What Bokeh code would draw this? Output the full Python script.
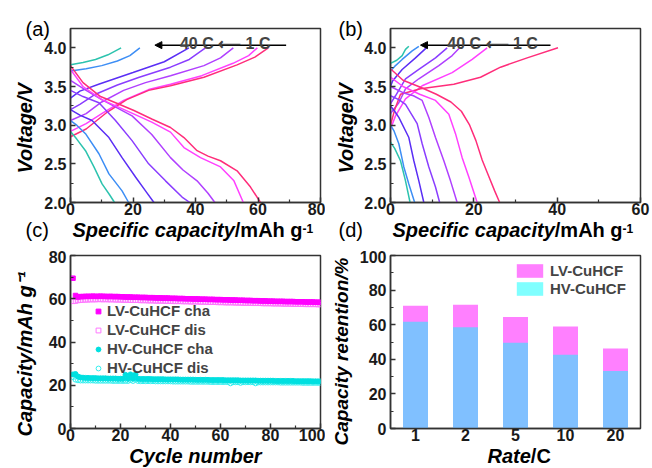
from bokeh.plotting import figure
from bokeh.layouts import gridplot
from bokeh.models import (Range1d, FactorRange, FixedTicker, Label, Arrow, NormalHead, Title,
                          ColumnDataSource, Legend, LegendItem, NumeralTickFormatter)
from bokeh.embed import file_html
from bokeh.resources import INLINE

FONT = "Liberation Sans"

# ---------------- data ----------------
rates = ["1 C", "2 C", "5 C", "10 C", "20 C", "30 C", "40 C"]
rate_colors = ["#FF2D7A", "#FF40FF", "#B040FF", "#8A3DFF", "#5A2EF5", "#3D8EF5", "#2CC3AE"]

# panel (a): LV-CuHCF charge / discharge, capacity (mAh/g) and voltage (V)
a_chg_x = [[0, 5, 11.8, 18, 25, 32, 42.7, 53.3, 59, 63.3],
           [0, 5, 10, 17, 25, 32, 42, 52, 57, 59.8],
           [0, 5, 10, 17, 24, 32, 42.7, 48, 52.1],
           [0, 3, 8, 15, 22, 32, 38, 43.2],
           [0, 3, 9, 20, 30, 37.9],
           [0, 5, 10, 15, 19, 22.2],
           [0, 4, 8, 12, 16.2]]
a_chg_v = [[2.85, 2.95, 3.17, 3.33, 3.45, 3.51, 3.62, 3.78, 3.88, 4.0],
           [2.92, 3.02, 3.15, 3.32, 3.46, 3.53, 3.64, 3.80, 3.90, 4.0],
           [3.06, 3.15, 3.30, 3.45, 3.55, 3.64, 3.77, 3.87, 4.0],
           [3.20, 3.27, 3.40, 3.52, 3.62, 3.75, 3.85, 4.0],
           [3.35, 3.44, 3.53, 3.68, 3.82, 4.0],
           [3.70, 3.73, 3.77, 3.83, 3.90, 4.0],
           [3.78, 3.81, 3.85, 3.91, 4.0]]
a_dis_x = [[0, 4, 9.6, 15, 20.3, 26, 32, 36.3, 40.5, 44, 48, 53.3, 57.6, 60.8],
           [0, 4, 10, 15, 20, 26, 32, 36.3, 41.6, 48, 52.3, 55.3],
           [0, 5, 10, 19.7, 26, 32, 36, 40.5, 44, 46.2],
           [0, 4, 9.1, 14.4, 19.7, 25, 30.4, 35.7, 38.2],
           [0, 3, 6.9, 12.3, 16.5, 20.8, 24, 26.7],
           [0, 2, 4.8, 9.1, 12.3, 16.5, 18.6],
           [0, 2, 4.8, 7.5, 10.1, 12.5, 14.1]]
a_dis_v = [[3.77, 3.55, 3.37, 3.28, 3.19, 3.08, 2.97, 2.84, 2.67, 2.60, 2.54, 2.41, 2.20, 2.0],
           [3.72, 3.50, 3.33, 3.24, 3.15, 3.04, 2.91, 2.71, 2.58, 2.46, 2.28, 2.0],
           [3.58, 3.45, 3.33, 3.12, 2.88, 2.58, 2.42, 2.28, 2.12, 2.0],
           [3.45, 3.37, 3.29, 3.06, 2.80, 2.50, 2.28, 2.07, 2.0],
           [3.20, 3.13, 3.06, 2.84, 2.58, 2.33, 2.15, 2.0],
           [3.06, 3.00, 2.89, 2.63, 2.37, 2.15, 2.0],
           [2.92, 2.82, 2.67, 2.46, 2.24, 2.10, 2.0]]

# panel (b): HV-CuHCF
b_chg_x = [[0, 1, 2.4, 7.2, 15.2, 21.6, 26.4, 32.8, 40.2],
           [0, 1.2, 3.6, 7.6, 14.8, 19.6, 23.2],
           [0, 2, 3.6, 6.8, 11.6, 14.8, 16.6],
           [0, 1.2, 3.6, 6.8, 10.8, 13.6],
           [0, 0.5, 2.8, 6, 8.6],
           [0, 1, 2.8, 5.2, 6.8],
           [0, 1.5, 2.8, 3.6, 4.4]]
b_chg_v = [[3.00, 3.20, 3.40, 3.47, 3.53, 3.62, 3.75, 3.87, 4.0],
           [2.95, 3.12, 3.34, 3.51, 3.68, 3.85, 4.0],
           [3.15, 3.29, 3.47, 3.60, 3.77, 3.90, 4.0],
           [3.28, 3.38, 3.60, 3.72, 3.87, 4.0],
           [3.50, 3.57, 3.72, 3.87, 4.0],
           [3.70, 3.76, 3.85, 3.96, 4.02],
           [3.80, 3.84, 3.90, 3.98, 4.02]]
b_dis_x = [[0, 3, 7.2, 11, 14.5, 17, 19, 20.5, 22, 23.5, 25, 26.2],
           [0, 3, 7, 10.8, 14, 15.6, 17.2, 18.8, 20.8],
           [0, 3, 5.5, 7.6, 9.2, 10.8, 12.8, 14.4, 16.0],
           [0, 2, 3.6, 6.4, 7.6, 9.2, 10.8, 11.8],
           [0, 1, 2, 4.4, 5.6, 6.8, 8],
           [0, 0.8, 2, 3.2, 4.4, 5.8],
           [0, 1, 2.4, 3.6, 4.7]]
b_dis_v = [[3.73, 3.58, 3.49, 3.40, 3.30, 3.18, 3.00, 2.80, 2.55, 2.35, 2.15, 2.0],
           [3.62, 3.50, 3.40, 3.32, 3.14, 2.89, 2.58, 2.33, 2.0],
           [3.50, 3.42, 3.38, 3.32, 3.10, 2.84, 2.54, 2.28, 2.0],
           [3.38, 3.33, 3.27, 3.02, 2.76, 2.46, 2.20, 2.0],
           [3.25, 3.18, 3.10, 2.84, 2.54, 2.28, 2.0],
           [3.00, 2.93, 2.76, 2.46, 2.24, 2.0],
           [2.78, 2.70, 2.54, 2.28, 2.0]]

arrow_a = [69, 27, 4.035]
arrow_b = [38.4, 7.2, 4.035]

# panel (c): cycling, capacity (mAh/g) vs cycle number
cycles = list(range(1, 101))
lv_cha = [69.5, 61.5, 60.8, 61.0, 61.0, 61.1, 61.1, 61.1, 61.2, 61.1,
          61.1, 61.2, 61.1, 61.1, 61.0, 61.1, 61.0, 61.0, 61.0, 60.9,
          60.9, 60.8, 60.8, 60.8, 60.7, 60.7, 60.7, 60.6, 60.6, 60.6,
          60.5, 60.5, 60.5, 60.4, 60.4, 60.4, 60.3, 60.3, 60.3, 60.2,
          60.2, 60.2, 60.1, 60.1, 60.1, 60.0, 60.0, 60.0, 59.9, 59.9,
          59.9, 59.8, 59.8, 59.8, 59.7, 59.7, 59.7, 59.6, 59.6, 59.6,
          59.5, 59.5, 59.5, 59.4, 59.4, 59.4, 59.3, 59.3, 59.3, 59.2,
          59.2, 59.2, 59.1, 59.1, 59.1, 59.0, 59.0, 59.0, 58.9, 58.9,
          58.9, 58.8, 58.8, 58.8, 58.8, 58.7, 58.7, 58.7, 58.7, 58.6,
          58.6, 58.6, 58.6, 58.5, 58.5, 58.5, 58.5, 58.4, 58.4, 58.4]
lv_dis = [58.8, 58.9, 59.2, 59.3, 59.4, 59.5, 59.5, 59.6, 59.6, 59.6,
          59.7, 59.7, 59.6, 59.7, 59.6, 59.6, 59.6, 59.5, 59.5, 59.5,
          59.4, 59.4, 59.4, 59.3, 59.3, 59.3, 59.3, 59.2, 59.2, 59.2,
          59.1, 59.1, 59.1, 59.0, 59.0, 59.0, 59.0, 58.9, 58.9, 58.9,
          58.8, 58.8, 58.8, 58.8, 58.7, 58.7, 58.7, 58.6, 58.6, 58.6,
          58.6, 58.5, 58.5, 58.5, 58.4, 58.4, 58.4, 58.4, 58.3, 58.3,
          58.3, 58.2, 58.2, 58.2, 58.2, 58.1, 58.1, 58.1, 58.0, 58.0,
          58.0, 58.0, 57.9, 57.9, 57.9, 57.9, 57.8, 57.8, 57.8, 57.8,
          57.7, 57.7, 57.7, 57.7, 57.6, 57.6, 57.6, 57.6, 57.5, 57.5,
          57.5, 57.5, 57.5, 57.4, 57.4, 57.4, 57.4, 57.4, 57.3, 57.3]
hv_cha = [25.0, 25.2, 24.0, 23.6, 23.5, 23.4, 23.4, 23.3, 23.3, 23.3,
          23.2, 23.2, 23.2, 23.2, 23.1, 23.1, 23.1, 23.1, 23.0, 23.0,
          23.0, 24.8, 23.0, 25.0, 23.1, 25.0, 23.0, 22.9, 22.9, 22.9,
          22.9, 22.9, 22.8, 22.8, 22.8, 22.8, 22.8, 22.7, 22.7, 22.7,
          22.7, 22.7, 22.7, 22.6, 22.6, 22.6, 22.6, 22.6, 22.6, 22.5,
          22.5, 22.5, 22.5, 22.5, 22.5, 22.4, 22.4, 22.4, 22.4, 22.4,
          22.4, 22.3, 22.3, 22.3, 22.3, 22.3, 22.3, 22.2, 22.2, 22.2,
          22.2, 22.2, 22.2, 22.2, 22.1, 22.1, 22.1, 22.1, 22.1, 22.1,
          22.1, 22.0, 22.0, 22.0, 22.0, 22.0, 22.0, 22.0, 22.0, 21.9,
          21.9, 21.9, 21.9, 21.9, 21.9, 21.9, 21.8, 21.8, 21.8, 21.8]
hv_dis = [23.8, 22.6, 22.3, 22.2, 22.2, 22.2, 22.2, 22.2, 22.2, 22.1,
          22.1, 22.1, 22.1, 22.1, 22.1, 22.1, 22.0, 22.0, 22.0, 22.0,
          22.0, 22.0, 22.0, 22.4, 22.0, 22.6, 22.0, 21.9, 21.9, 21.9,
          21.9, 21.9, 21.9, 21.8, 21.8, 21.8, 21.8, 21.8, 21.8, 21.8,
          21.7, 21.7, 21.7, 21.7, 21.7, 21.7, 21.7, 21.6, 21.6, 21.6,
          21.6, 21.6, 21.6, 21.6, 21.6, 21.5, 21.5, 21.5, 21.5, 21.5,
          21.5, 21.5, 21.5, 20.9, 21.4, 21.4, 21.4, 21.1, 21.4, 21.4,
          21.4, 21.4, 21.4, 20.9, 21.3, 21.3, 21.3, 21.3, 21.3, 21.3,
          21.3, 21.3, 21.3, 21.2, 21.2, 21.2, 21.2, 21.2, 21.2, 21.2,
          21.2, 21.2, 21.1, 21.1, 21.1, 21.1, 21.1, 21.1, 21.1, 21.1]

# panel (d): capacity retention (%)
ret_rates = ["1", "2", "5", "10", "20"]
lv_ret = [71.0, 71.6, 64.5, 59.0, 46.3]
hv_ret = [61.7, 58.5, 49.5, 42.7, 33.3]

# ---------------- helpers ----------------
WID = {' ': 278, '(': 333, ')': 333, '/': 278, '%': 889, '-': 333, 'A': 722, 'C': 722,
       'F': 611, 'H': 722, 'L': 611, 'R': 722, 'S': 667, 'V': 667, 'a': 556, 'b': 611,
       'c': 556, 'e': 556, 'f': 333, 'g': 611, 'h': 611, 'i': 278, 'l': 278, 'm': 889,
       'n': 611, 'o': 611, 'p': 611, 'r': 389, 't': 333, 'u': 611, 'y': 556}


def tw(s, size):
    return sum(WID.get(ch, 556) for ch in s) * size / 1000.0


def ttl(p, side, text, size, style, align, valign, offset, psize=0.0):
    """Title in a side panel; psize is the panel thickness it should take."""
    h = 1.117 * size
    p.add_layout(Title(text=text, text_font=FONT, text_font_size=f"{size}px",
                       text_font_style=style, text_color="black", align=align,
                       vertical_align=valign, offset=offset, standoff=psize - 2 - h), side)


def hparts(p, parts, offset):
    off = offset
    for s, st, size in parts:
        ttl(p, "below", s, size, st, "left", "top", off)
        off += tw(s, size)


def make_fig(w, h, bl, br, bt, bb, xr, yr):
    p = figure(width=w, height=h, x_range=xr, y_range=yr, output_backend="svg",
               toolbar_location=None, min_border_left=bl, min_border_right=br,
               min_border_top=bt, min_border_bottom=bb)
    p.xgrid.visible = False
    p.ygrid.visible = False
    p.outline_line_color = "#333333"
    p.outline_line_width = 1.5
    p.outline_line_alpha = 1.0
    for ax in (p.xaxis[0], p.yaxis[0]):
        ax.axis_line_color = "#333333"
        ax.axis_line_width = 1.5
        ax.major_tick_in = 5
        ax.major_tick_out = 0
        ax.minor_tick_in = 3
        ax.minor_tick_out = 0
        ax.major_tick_line_color = "#333333"
        ax.major_tick_line_width = 1.5
        ax.minor_tick_line_color = "#333333"
        ax.minor_tick_line_width = 1.2
        ax.major_label_text_font = FONT
        ax.major_label_text_font_style = "bold"
        ax.major_label_text_font_size = "16px"
        ax.major_label_text_color = "#1a1a1a"
    p.xaxis[0].major_label_standoff = 0
    p.yaxis[0].major_label_standoff = 4
    # spacer that pushes the axis-title row below the tick labels
    ttl(p, "below", " ", 20, "normal", "left", "top", 0, 14)
    return p


cap_parts = [("Specific capacity", "bold italic", 20), ("/mAh g", "bold", 20), ("-1", "bold", 12)]
ARROW_TXT = "40 C \u27f5 1 C"

# ---------------- panel (a) ----------------
pa = make_fig(325, 250, 70, 5, 28, 48, Range1d(0, 80), Range1d(2.0, 4.25))
pa.xaxis[0].ticker = FixedTicker(ticks=[0, 20, 40, 60, 80], minor_ticks=[10, 30, 50, 70])
pa.yaxis[0].ticker = FixedTicker(ticks=[2.0, 2.5, 3.0, 3.5, 4.0], minor_ticks=[2.25, 2.75, 3.25, 3.75])
pa.yaxis[0].formatter = NumeralTickFormatter(format="0.0")
pa.multi_line(xs=a_chg_x[::-1], ys=a_chg_v[::-1], line_color=rate_colors[::-1], line_width=1.5)
pa.multi_line(xs=a_dis_x[::-1], ys=a_dis_v[::-1], line_color=rate_colors[::-1], line_width=1.5)
pa.add_layout(Arrow(end=NormalHead(size=7, fill_color="black", line_color="black"),
                    x_start=arrow_a[0], y_start=arrow_a[2], x_end=arrow_a[1], y_end=arrow_a[2],
                    line_color="black", line_width=1.5))
pa.add_layout(Label(x=49.5, y=4.06, text=ARROW_TXT, text_font=FONT, text_font_size="16px",
                    text_font_style="bold", text_align="center", text_baseline="alphabetic"))
ttl(pa, "above", "(a)", 20, "normal", "left", "middle", -45)
ttl(pa, "below", "(c)", 20, "normal", "left", "top", -45)
hparts(pa, cap_parts, 2)
ttl(pa, "left", "Voltage/V", 20, "bold italic", "left", "top", 29, 32.8)

# ---------------- panel (b) ----------------
pb = make_fig(325, 250, 65, 10, 28, 48, Range1d(0, 60), Range1d(2.0, 4.25))
pb.xaxis[0].ticker = FixedTicker(ticks=[0, 20, 40, 60], minor_ticks=[10, 30, 50])
pb.yaxis[0].ticker = FixedTicker(ticks=[2.0, 2.5, 3.0, 3.5, 4.0], minor_ticks=[2.25, 2.75, 3.25, 3.75])
pb.yaxis[0].formatter = NumeralTickFormatter(format="0.0")
pb.multi_line(xs=b_chg_x[::-1], ys=b_chg_v[::-1], line_color=rate_colors[::-1], line_width=1.5)
pb.multi_line(xs=b_dis_x[::-1], ys=b_dis_v[::-1], line_color=rate_colors[::-1], line_width=1.5)
pb.add_layout(Arrow(end=NormalHead(size=7, fill_color="black", line_color="black"),
                    x_start=arrow_b[0], y_start=arrow_b[2], x_end=arrow_b[1], y_end=arrow_b[2],
                    line_color="black", line_width=1.5))
pb.add_layout(Label(x=24.5, y=4.06, text=ARROW_TXT, text_font=FONT, text_font_size="16px",
                    text_font_style="bold", text_align="center", text_baseline="alphabetic"))
ttl(pb, "above", "(b)", 20, "normal", "left", "middle", -52)
ttl(pb, "below", "(d)", 20, "normal", "left", "top", -52)
hparts(pb, cap_parts, 2)
ttl(pb, "left", "Voltage/V", 20, "bold italic", "left", "top", 29, 30.8)

# ---------------- panel (c) ----------------
pc = make_fig(325, 218, 70, 5, 5, 40, Range1d(0, 100), Range1d(0, 80))
pc.xaxis[0].ticker = FixedTicker(ticks=[0, 20, 40, 60, 80, 100], minor_ticks=[10, 30, 50, 70, 90])
pc.yaxis[0].ticker = FixedTicker(ticks=[0, 20, 40, 60, 80], minor_ticks=[10, 30, 50, 70])
src_c = ColumnDataSource(dict(cyc=cycles, lvc=lv_cha, lvd=lv_dis, hvc=hv_cha, hvd=hv_dis))
r_lvd = pc.scatter("cyc", "lvd", source=src_c, marker="square", size=4.5, fill_color=None,
                   line_color="#FF77FF", line_width=1)
r_lvc = pc.scatter("cyc", "lvc", source=src_c, marker="square", size=4.5, fill_color="#FF00FF",
                   line_color="#FF00FF")
r_hvd = pc.scatter("cyc", "hvd", source=src_c, marker="circle", size=5, fill_color=None,
                   line_color="#33F0F0", line_width=1)
r_hvc = pc.scatter("cyc", "hvc", source=src_c, marker="circle", size=5, fill_color="#00E0E0",
                   line_color="#00E0E0")
leg_c = Legend(items=[LegendItem(label="LV-CuHCF cha", renderers=[r_lvc]),
                      LegendItem(label="LV-CuHCF dis", renderers=[r_lvd]),
                      LegendItem(label="HV-CuHCF cha", renderers=[r_hvc]),
                      LegendItem(label="HV-CuHCF dis", renderers=[r_hvd])],
               location=(22, 52), background_fill_alpha=0, border_line_alpha=0,
               padding=0, margin=0, spacing=2, glyph_width=12, glyph_height=16,
               label_height=16, label_standoff=3, label_text_font=FONT,
               label_text_font_style="bold", label_text_font_size="15px")
pc.add_layout(leg_c)
ttl(pc, "left", "Capacity/mAh g\u207b\u00b9", 20, "bold italic", "left", "top", -8, 39.2)
ttl(pc, "below", "Cycle number", 20, "bold italic", "center", "top", 0)

# ---------------- panel (d) ----------------
pd_ = make_fig(325, 218, 65, 10, 5, 40, FactorRange(factors=ret_rates), Range1d(0, 100))
pd_.yaxis[0].ticker = FixedTicker(ticks=[0, 20, 40, 60, 80, 100], minor_ticks=[10, 30, 50, 70, 90])
pd_.xaxis[0].major_tick_in = 0
src_d = ColumnDataSource(dict(rate=ret_rates, lv=lv_ret, hv=hv_ret))
r_lv = pd_.vbar(x="rate", top="lv", width=0.5, source=src_d, fill_color="#FF80FF", line_color=None)
pd_.vbar(x="rate", top="hv", width=0.5, source=src_d, fill_color="#80C0FF", line_color=None)
r_hv_leg = pd_.vbar(x=ret_rates[:1], top=[0], width=0.5, fill_color="#80FFFF", line_color=None)
leg_d = Legend(items=[LegendItem(label="LV-CuHCF", renderers=[r_lv]),
                      LegendItem(label="HV-CuHCF", renderers=[r_hv_leg])],
               location=(123, 131), background_fill_alpha=0, border_line_alpha=0,
               padding=0, margin=0, spacing=1, glyph_width=33, glyph_height=17,
               label_height=17, label_standoff=4, label_text_font=FONT,
               label_text_font_style="bold", label_text_font_size="15px")
pd_.add_layout(leg_d)
ttl(pd_, "left", "Capacity retention/%", 19, "bold italic", "left", "top", -17, 28.3)
hparts(pd_, [("Rate", "bold italic", 20), ("/C", "bold", 20)], 97)

grid = gridplot([[pa, pb], [pc, pd_]], toolbar_location=None)

open("out.html", "w").write(file_html(grid, INLINE))
